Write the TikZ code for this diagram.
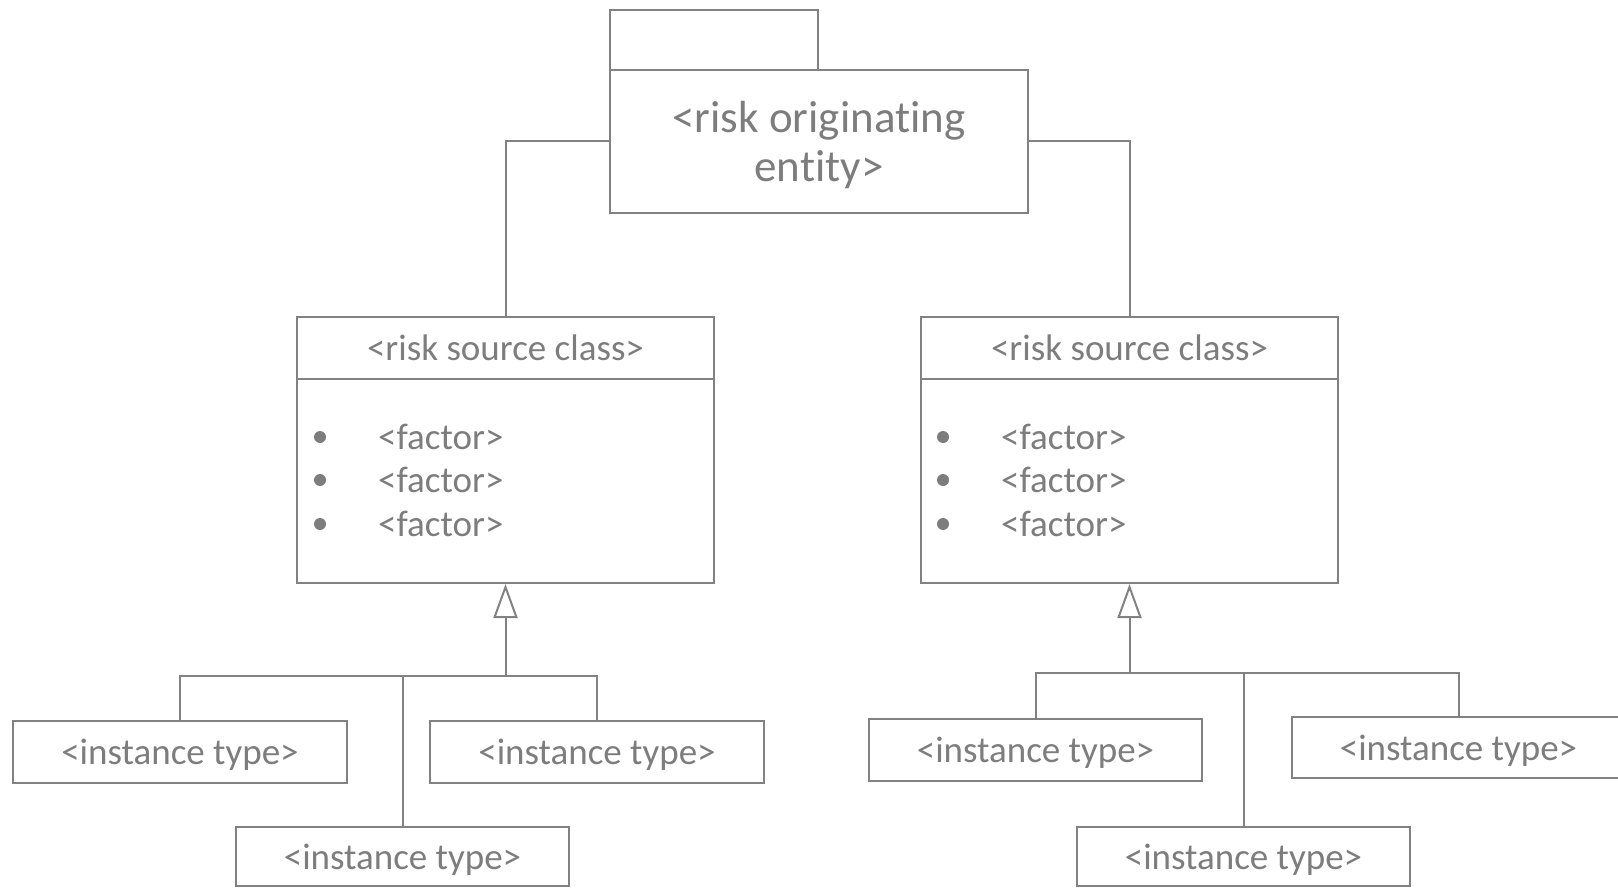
\documentclass[tikz,border=0pt]{standalone}
\usepackage{fontspec}
\setmainfont{Carlito}[Ligatures={NoCommon,NoRequired,NoContextual,NoDiscretionary}]
\usetikzlibrary{arrows.meta}
\definecolor{linegray}{RGB}{130,130,130}
\definecolor{textgray}{RGB}{125,125,125}
\tikzset{
  box/.style={draw=linegray, line width=2pt, rectangle, inner sep=0pt,
              text depth=0pt, text=textgray, font=\fontsize{37}{44}\selectfont},
  bigbox/.style={box, line width=2.6pt},
  wire/.style={draw=linegray, line width=2pt},
  dot/.style={circle, fill=textgray, inner sep=0pt, minimum size=12pt},
  factor/.style={anchor=west, inner sep=0pt, text=textgray,
                 font=\fontsize{37}{44}\selectfont},
  gen/.style={wire, -{Triangle[open, length=34pt, width=24pt, line width=2pt]}}
}
\begin{document}
\begin{tikzpicture}[x=1pt, y=-1pt]
\useasboundingbox (0,0) rectangle (1618,888);

% package header: tab and main box
\node[bigbox, minimum width=208pt, minimum height=60pt] (tab) at (714,40) {};
\node[bigbox, minimum width=418pt, minimum height=143pt, align=center,
      font=\fontsize{45}{49}\selectfont] (entity) at (819,141.5)
      {<risk originat\kern0pt ing\\ent\kern0pt ity>};

% left class
\node[box, minimum width=417pt, minimum height=62pt] (hdrL) at (505.5,348) {<risk source class>};
\node[box, minimum width=417pt, minimum height=204pt] (bodyL) at (505.5,481) {};
\node[dot] (bL1) at (320,437) {};
\node[dot] (bL2) at (320,480) {};
\node[dot] (bL3) at (320,524) {};
\node[factor] (fL1) at (378,437) {<factor>};
\node[factor] (fL2) at (378,480) {<factor>};
\node[factor] (fL3) at (378,524) {<factor>};

% right class
\node[box, minimum width=417pt, minimum height=62pt] (hdrR) at (1129.5,348) {<risk source class>};
\node[box, minimum width=417pt, minimum height=204pt] (bodyR) at (1129.5,481) {};
\node[dot] (bR1) at (943,437) {};
\node[dot] (bR2) at (943,480) {};
\node[dot] (bR3) at (943,524) {};
\node[factor] (fR1) at (1001,437) {<factor>};
\node[factor] (fR2) at (1001,480) {<factor>};
\node[factor] (fR3) at (1001,524) {<factor>};

% instance types, left
\node[box, minimum width=334pt, minimum height=62pt] (L1) at (180,752) {<instance type>};
\node[box, minimum width=334pt, minimum height=62pt] (L2) at (597,752) {<instance type>};
\node[box, minimum width=333pt, minimum height=59pt] (L3) at (402.5,856.5) {<instance type>};

% instance types, right
\node[box, minimum width=333pt, minimum height=62pt] (R1) at (1035.5,750) {<instance type>};
\node[box, minimum width=333pt, minimum height=61pt] (R2) at (1458.5,747.5) {<instance type>};
\node[box, minimum width=333pt, minimum height=59pt] (R3) at (1243.5,856.5) {<instance type>};

% entity to classes
\draw[wire] (entity.west) -| (hdrL.north);
\draw[wire] (entity.east) -| (hdrR.north);

% generalisation, left
\coordinate (jL) at (505.5,676);
\draw[gen] (jL) -- (bodyL.south);
\draw[wire] (L1.north) |- (jL) -| (L2.north);
\draw[wire] (L3.north) -- (L3.north |- jL);

% generalisation, right
\coordinate (jR) at (1129.5,673);
\draw[gen] (jR) -- (bodyR.south);
\draw[wire] (R1.north) |- (jR) -| (R2.north);
\draw[wire] (R3.north) -- (R3.north |- jR);
\end{tikzpicture}
\end{document}
